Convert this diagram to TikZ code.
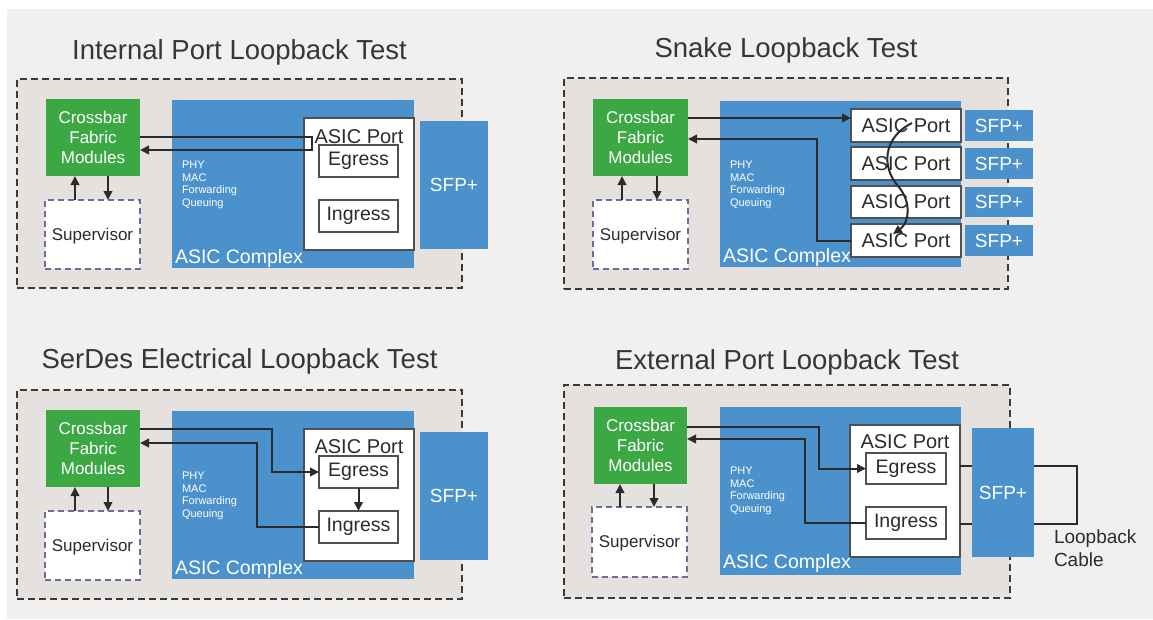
\documentclass[tikz,border=0pt]{standalone}
\usepackage{fontspec}
\setmainfont{Liberation Sans}
\usetikzlibrary{arrows.meta,calc}

\definecolor{pagegrey}{HTML}{F1F0EF}
\definecolor{framefill}{HTML}{E4E1DE}
\definecolor{framedash}{HTML}{3A3A3A}
\definecolor{fabricgreen}{HTML}{3CA843}
\definecolor{asicblue}{HTML}{4B92CC}
\definecolor{inkdark}{HTML}{2B2B2B}
\definecolor{supdash}{HTML}{6E6C98}
\definecolor{boxline}{HTML}{505050}

\tikzset{
  every node/.style={inner sep=0pt, outer sep=0pt},
  placed/.style n args={4}{at={(#1,#2)}, anchor=north west,
    minimum width={(#3-#1)*1pt}, minimum height={(#4-#2)*1pt}},
  chassis/.style={draw=framedash, fill=framefill, line width=2.6pt, dash pattern=on 7pt off 4pt},
  fabric/.style={fill=fabricgreen, text=white, align=center, font=\fontsize{17}{20}\selectfont},
  supbox/.style={draw=supdash, fill=white, line width=1.4pt, dash pattern=on 6pt off 4pt,
    text=inkdark, font=\fontsize{17}{20}\selectfont, text depth=0.5pt},
  bluebox/.style={fill=asicblue},
  sfpbox/.style={fill=asicblue, text=white, font=\fontsize{19}{22}\selectfont},
  portbox/.style={draw=boxline, fill=white, line width=1.3pt},
  portcell/.style={draw=boxline, fill=white, line width=1.3pt, text=inkdark, font=\fontsize{20}{22}\selectfont},
  qbox/.style={draw=boxline, fill=white, line width=1.3pt, text=inkdark, font=\fontsize{19.5}{22}\selectfont},
  porttxt/.style={text=inkdark, font=\fontsize{20}{22}\selectfont},
  smalltxt/.style={text=white, align=left, font=\fontsize{11}{12.7}\selectfont},
  cplxtxt/.style={text=white, font=\fontsize{19.5}{22}\selectfont},
  title/.style={text=inkdark!95, font=\fontsize{27.5}{30}\selectfont},
  notetxt/.style={text=inkdark, align=left, font=\fontsize{19}{22.5}\selectfont},
  arr/.style={draw=inkdark, line width=2pt, -{Triangle[length=9pt,width=8.5pt]}},
  cable/.style={draw=inkdark, line width=2pt},
}

\begin{document}
\begin{tikzpicture}[x=1pt, y=-1pt]
\useasboundingbox (0,0) rectangle (1153,619);
\fill[white] (0,0) rectangle (1153,619);
\fill[pagegrey] (7,9) rectangle (1153,619);

% ---------------- Internal Port Loopback Test ----------------
\node[title, anchor=base] (ti1) at (239.5,59) {Internal Port Loopback Test};
\node[chassis, placed={17}{79}{462}{288}] (ch1) {};
\node[bluebox, placed={172}{100}{414}{268}] (bl1) {};
\node[sfpbox, placed={420}{121}{488}{249}] (sf1) {SFP+};
\node[fabric, placed={46}{99}{140}{176}] (gr1) {Crossbar\\Fabric\\Modules};
\node[supbox, placed={45}{200}{140}{269}] (su1) {Supervisor};
\node[portbox, placed={304}{118}{414}{250}] (pt1) {};
\node[qbox, placed={319}{145}{398}{177}] (eg1) {Egress};
\node[qbox, placed={319}{200}{398}{232}] (ig1) {Ingress};
\node[porttxt, anchor=base] (pl1) at (359,143) {ASIC Port};
\node[smalltxt, anchor=north west] (ph1) at (182,161) {PHY\\MAC\\Forwarding\\Queuing};
\node[cplxtxt, anchor=base west] (cx1) at (175,263) {ASIC Complex};
\coordinate (u1) at (75,0);
\coordinate (d1) at (108,0);
\draw[arr] (u1 |- su1.north) -- (u1 |- gr1.south);
\draw[arr] (d1 |- gr1.south) -- (d1 |- su1.north);
\coordinate (lp1a) at (312,137);
\coordinate (lp1b) at (312,150);
\draw[arr] (gr1.east |- lp1a) -- (lp1a) -- (lp1b) -- (gr1.east |- lp1b);

% ---------------- SerDes Electrical Loopback Test ----------------
\node[title, anchor=base] (ti2) at (239.5,368) {SerDes Electrical Loopback Test};
\node[chassis, placed={17}{390}{462}{599}] (ch2) {};
\node[bluebox, placed={172}{411}{414}{579}] (bl2) {};
\node[sfpbox, placed={420}{432}{488}{560}] (sf2) {SFP+};
\node[fabric, placed={46}{410}{140}{487}] (gr2) {Crossbar\\Fabric\\Modules};
\node[supbox, placed={45}{511}{140}{580}] (su2) {Supervisor};
\node[portbox, placed={304}{429}{414}{561}] (pt2) {};
\node[qbox, placed={319}{456}{398}{488}] (eg2) {Egress};
\node[qbox, placed={319}{511}{398}{543}] (ig2) {Ingress};
\node[porttxt, anchor=base] (pl2) at (359,453) {ASIC Port};
\node[smalltxt, anchor=north west] (ph2) at (182,472) {PHY\\MAC\\Forwarding\\Queuing};
\node[cplxtxt, anchor=base west] (cx2) at (175,574) {ASIC Complex};
\coordinate (u2) at (75,0);
\coordinate (d2) at (108,0);
\draw[arr] (u2 |- su2.north) -- (u2 |- gr2.south);
\draw[arr] (d2 |- gr2.south) -- (d2 |- su2.north);
\coordinate (sd1) at (272,429);
\coordinate (sd2) at (257,443);
\draw[arr] (gr2.east |- sd1) -- (sd1) |- (eg2.west);
\draw[arr] (ig2.west) -| (sd2) -- (gr2.east |- sd2);
\draw[arr] (eg2.south) -- (ig2.north);

% ---------------- Snake Loopback Test ----------------
\node[title, anchor=base] (ti3) at (786,57) {Snake Loopback Test};
\node[chassis, placed={564}{78}{1008}{289}] (ch3) {};
\node[bluebox, placed={720}{101}{961}{267}] (bl3) {};
\node[sfpbox, placed={965}{110}{1033}{141}] (sa3) {SFP+};
\node[sfpbox, placed={965}{148}{1033}{179}] (sb3) {SFP+};
\node[sfpbox, placed={965}{187}{1033}{217}] (sc3) {SFP+};
\node[sfpbox, placed={965}{225}{1033}{256}] (sd3) {SFP+};
\node[fabric, placed={593}{99}{688}{176}] (gr3) {Crossbar\\Fabric\\Modules};
\node[supbox, placed={593}{200}{688}{269}] (su3) {Supervisor};
\node[smalltxt, anchor=north west] (ph3) at (730,161) {PHY\\MAC\\Forwarding\\Queuing};
\node[cplxtxt, anchor=base west] (cx3) at (723,262) {ASIC Complex};
\node[portcell, placed={851}{109}{961}{142}] (pa3) {ASIC Port};
\node[portcell, placed={851}{147}{961}{180}] (pb3) {ASIC Port};
\node[portcell, placed={851}{186}{961}{218}] (pc3) {ASIC Port};
\node[portcell, placed={851}{224}{961}{257}] (pd3) {ASIC Port};
\coordinate (u3) at (622,0);
\coordinate (d3) at (657,0);
\draw[arr] (u3 |- su3.north) -- (u3 |- gr3.south);
\draw[arr] (d3 |- gr3.south) -- (d3 |- su3.north);
\coordinate (sn1) at (700,118);
\coordinate (sn2) at (817,139);
\draw[arr] (gr3.east |- sn1) -- (pa3.west |- sn1);
\draw[arr] (pd3.west) -| (sn2) -- (gr3.east |- sn2);
\coordinate (sk0) at (912,123);
\coordinate (sk1) at (898,186);
\coordinate (sk2) at (893,234);
\draw[arr] (sk0) .. controls (882,138) and (882,168) .. (sk1)
               .. controls (912,202) and (909,223) .. (sk2);

% ---------------- External Port Loopback Test ----------------
\node[title, anchor=base] (ti4) at (787,369) {External Port Loopback Test};
\node[chassis, placed={564}{385}{1010}{598}] (ch4) {};
\node[bluebox, placed={720}{407}{961}{575}] (bl4) {};
\node[sfpbox, placed={972}{428}{1034}{557}] (sf4) {SFP+};
\node[fabric, placed={594}{407}{687}{484}] (gr4) {Crossbar\\Fabric\\Modules};
\node[supbox, placed={592}{507}{687}{577}] (su4) {Supervisor};
\node[portbox, placed={850}{425}{960}{557}] (pt4) {};
\node[qbox, placed={866}{453}{946}{484}] (eg4) {Egress};
\node[qbox, placed={866}{507}{946}{539}] (ig4) {Ingress};
\node[porttxt, anchor=base] (pl4) at (905,448) {ASIC Port};
\node[smalltxt, anchor=north west] (ph4) at (730,467) {PHY\\MAC\\Forwarding\\Queuing};
\node[cplxtxt, anchor=base west] (cx4) at (723,568) {ASIC Complex};
\coordinate (u4) at (620,0);
\coordinate (d4) at (654,0);
\draw[arr] (u4 |- su4.north) -- (u4 |- gr4.south);
\draw[arr] (d4 |- gr4.south) -- (d4 |- su4.north);
\coordinate (ex1) at (819,427);
\coordinate (ex2) at (805,439);
\draw[arr] (gr4.east |- ex1) -- (ex1) |- (eg4.west);
\draw[arr] (ig4.west) -| (ex2) -- (gr4.east |- ex2);
% loopback cable through the SFP+
\coordinate (cb1) at (1077,466);
\coordinate (cb2) at (1077,524);
\draw[cable] (pt4.east |- cb1) -- (sf4.west |- cb1);
\draw[cable] (pt4.east |- cb2) -- (sf4.west |- cb2);
\draw[cable] (sf4.east |- cb1) -- (cb1) -- (cb2) -- (sf4.east |- cb2);
\node[notetxt, anchor=north west] (lc4) at (1054,530) {Loopback\\Cable};
\end{tikzpicture}
\end{document}
